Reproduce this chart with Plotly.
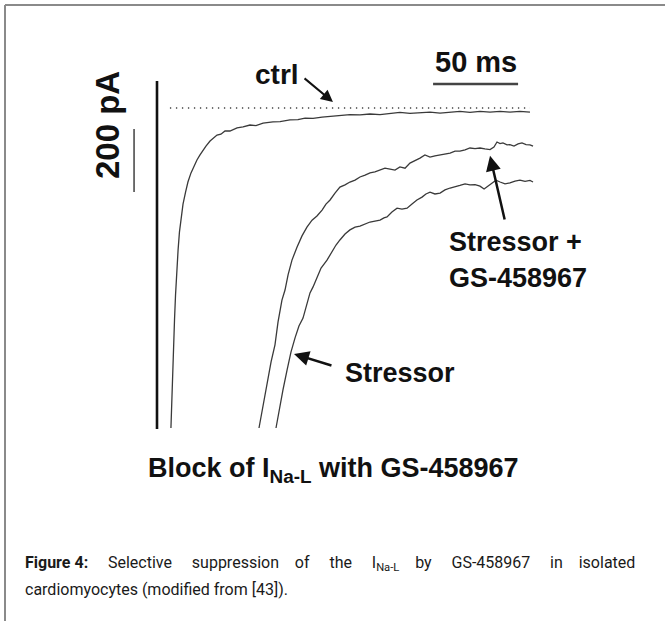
import plotly.graph_objects as go

# ---- data (time in ms, current in pA; 0 pA = dotted zero-current level) ----
ctrl_t = [8.2, 8.5, 8.8, 9.1, 9.7, 10.3, 10.9, 11.5, 12.4, 13.2, 14.1, 15.3, 16.8, 18.2, 20.0,
          21.8, 23.5, 25.3, 27.1, 28.8, 31.2, 32.9, 35.3, 37.6, 40.0, 42.9, 47.1, 50.6, 54.7,
          58.2, 62.4, 68.2, 72.4, 78.2, 82.9, 87.1, 91.8, 97.1, 101.8, 107.6, 113.5, 119.4,
          125.3, 131.2, 137.1, 142.9, 148.8, 154.7, 160.6, 166.5, 172.4, 178.2, 184.1, 190.0,
          195.9, 201.8, 207.6, 213.5, 219.4]
ctrl_i = [-1016, -959, -895, -832, -752, -673, -594, -514, -451, -394, -349, -305, -267, -235,
          -206, -184, -165, -149, -133, -121, -105, -98, -86, -83, -73, -73, -63, -60, -54, -56,
          -48, -44, -43, -38, -37, -32, -33, -29, -27, -25, -21, -22, -19, -21, -17, -14, -17,
          -16, -13, -16, -13, -11, -14, -11, -13, -11, -13, -11, -13]

gs_t = [60.0, 62.4, 64.7, 67.1, 69.4, 71.2, 73.5, 75.3, 77.1, 79.4, 82.4, 85.3, 88.2, 91.2,
        94.1, 97.1, 99.4, 101.8, 104.7, 107.6, 110.6, 113.5, 116.5, 119.4, 122.4, 125.3, 128.2,
        131.2, 134.1, 137.1, 140.0, 142.9, 145.9, 148.8, 151.8, 154.7, 157.6, 160.6, 163.5,
        166.5, 169.4, 172.4, 175.3, 178.2, 181.2, 184.1, 187.1, 190.0, 192.9, 195.9, 198.2,
        200.0, 201.8, 203.5, 205.9, 207.6, 210.0, 212.4, 214.7, 217.1, 219.4, 221.2]
gs_i = [-1016, -943, -880, -806, -752, -679, -610, -578, -530, -483, -441, -406, -378, -356,
        -343, -324, -305, -292, -270, -251, -244, -235, -229, -219, -213, -206, -203, -198,
        -191, -194, -197, -187, -191, -175, -168, -159, -149, -156, -152, -149, -148, -143,
        -137, -137, -133, -127, -129, -127, -130, -132, -124, -108, -113, -111, -117, -116,
        -121, -114, -111, -116, -117, -121]

str_t = [70.0, 71.8, 74.1, 76.5, 78.8, 81.2, 83.5, 85.9, 88.2, 90.0, 91.8, 94.1, 96.5, 100.0,
         102.4, 105.3, 107.6, 110.6, 113.5, 116.5, 119.4, 122.4, 125.3, 128.2, 131.2, 133.5,
         135.3, 138.2, 141.2, 144.1, 147.1, 150.0, 152.9, 155.9, 158.2, 160.6, 163.5, 166.5,
         169.4, 172.4, 175.3, 178.2, 181.2, 184.1, 187.1, 190.0, 192.4, 194.7, 197.1, 199.4,
         201.8, 204.7, 207.6, 210.6, 213.5, 216.5, 219.4, 221.2]
str_i = [-1016, -959, -895, -832, -775, -730, -692, -667, -619, -587, -568, -540, -508, -483,
         -460, -435, -419, -400, -387, -378, -375, -368, -362, -359, -356, -349, -346, -330,
         -318, -321, -318, -305, -292, -283, -273, -267, -273, -270, -260, -254, -251, -246,
         -241, -244, -243, -248, -257, -248, -238, -229, -235, -241, -238, -232, -229, -233,
         -230, -235]

step_t = [0, 0]
step_i = [86, -1019]

zero_t = [7.6, 219.4]
zero_i = [0, 0]

time_bar_t = [162.4, 212.4]   # 50 ms
time_bar_i = [76, 76]
curr_bar_t = [-13.5, -13.5]   # 200 pA
curr_bar_i = [-67, -267]

caption_words_1 = ["<b>Figure 4:</b>", "Selective", "suppression", "of", "the",
                   "I<sub>Na-L</sub>", "by", "GS-458967", "in", "isolated"]
caption_line_2 = "cardiomyocytes (modified from [43])."

TRACE = "#3a3a3a"

fig = go.Figure()
fig.add_trace(go.Scatter(x=zero_t, y=zero_i, mode="lines",
                         line=dict(color="#444", width=1.3, dash="1.3px,4.7px")))
fig.add_trace(go.Scatter(x=step_t, y=step_i, mode="lines", line=dict(color="#111", width=2.6)))
for t, i in [(ctrl_t, ctrl_i), (gs_t, gs_i), (str_t, str_i)]:
    fig.add_trace(go.Scatter(x=t, y=i, mode="lines", line=dict(color=TRACE, width=1.3)))
fig.add_trace(go.Scatter(x=time_bar_t, y=time_bar_i, mode="lines", line=dict(color="#444", width=2.6)))
fig.add_trace(go.Scatter(x=curr_bar_t, y=curr_bar_i, mode="lines", line=dict(color="#333", width=1.4)))

BOLD = "Liberation Sans, Arial, sans-serif"
CAP = "Roboto, sans-serif"
# justified first caption line: widen the word gaps with non-breaking spaces
extra = [4, 4, 3, 4, 4, 3, 4, 4, 3]
line1 = caption_words_1[0]
for k, w in enumerate(caption_words_1[1:]):
    line1 += " " + "\u00a0" * extra[k] + w

anns = [
    dict(x=70.6, y=105, text="<b>ctrl</b>", font=dict(size=28, family=BOLD, color="#111"),
         showarrow=False, xanchor="center", yanchor="middle"),
    dict(x=187.4, y=146, text="<b>50 ms</b>", font=dict(size=29, family=BOLD, color="#111"),
         showarrow=False, xanchor="center", yanchor="middle"),
    dict(x=-29.4, y=-54, text="<b>200 pA</b>", font=dict(size=33, family=BOLD, color="#111"),
         showarrow=False, xanchor="center", yanchor="middle", textangle=-90),
    dict(x=170.5, y=-425, text="<b>Stressor +</b>", font=dict(size=27, family=BOLD, color="#111"),
         showarrow=False, xanchor="left", yanchor="middle"),
    dict(x=170.5, y=-540, text="<b>GS-458967</b>", font=dict(size=27, family=BOLD, color="#111"),
         showarrow=False, xanchor="left", yanchor="middle"),
    dict(x=109.4, y=-841, text="<b>Stressor</b>", font=dict(size=27, family=BOLD, color="#111"),
         showarrow=False, xanchor="left", yanchor="middle"),
    # arrows
    dict(x=103.5, y=19, ax=85.9, ay=98, axref="x", ayref="y", xref="x", yref="y", text="",
         showarrow=True, arrowhead=2, arrowsize=1.2, arrowwidth=2, arrowcolor="#111"),
    dict(x=195.9, y=-152, ax=204.7, ay=-359, axref="x", ayref="y", xref="x", yref="y", text="",
         showarrow=True, arrowhead=2, arrowsize=1.2, arrowwidth=2.5, arrowcolor="#111"),
    dict(x=80.6, y=-781, ax=103.5, ay=-819, axref="x", ayref="y", xref="x", yref="y", text="",
         showarrow=True, arrowhead=2, arrowsize=1.2, arrowwidth=2.5, arrowcolor="#111"),
    # title
    dict(x=333 / 665, y=1 - 470 / 621, xref="paper", yref="paper",
         text="<b>Block of I<sub>Na-L</sub> with GS-458967</b>",
         font=dict(size=27, family=BOLD, color="#111"), showarrow=False,
         xanchor="center", yanchor="middle"),
    # caption
    dict(x=23 / 665, y=1 - 563 / 621, xref="paper", yref="paper",
         text=line1,
         font=dict(size=16, family=CAP, color="#1a1a1a"), showarrow=False,
         xanchor="left", yanchor="middle"),
    dict(x=23 / 665, y=1 - 589 / 621, xref="paper", yref="paper",
         text=caption_line_2,
         font=dict(size=16, family=CAP, color="#1a1a1a"), showarrow=False,
         xanchor="left", yanchor="middle"),
]

shapes = [
    dict(type="line", xref="paper", yref="paper", x0=5 / 665, x1=1, y0=1 - 5 / 621, y1=1 - 5 / 621,
         line=dict(color="#8a8a8a", width=2)),
    dict(type="line", xref="paper", yref="paper", x0=5 / 665, x1=5 / 665, y0=0, y1=1 - 5 / 621,
         line=dict(color="#8a8a8a", width=2)),
]

fig.update_layout(
    width=665, height=621, autosize=False,
    margin=dict(l=0, r=0, t=0, b=0),
    paper_bgcolor="white", plot_bgcolor="white",
    showlegend=False,
    xaxis=dict(range=[-157 / 1.7, (665 - 157) / 1.7], visible=False, fixedrange=True),
    yaxis=dict(range=[(108 - 621) * 3.175, 108 * 3.175], visible=False, fixedrange=True),
    annotations=anns, shapes=shapes,
)

fig.write_html("out.html", config=dict(displayModeBar=False),
               post_script="document.body.style.margin='0';")
